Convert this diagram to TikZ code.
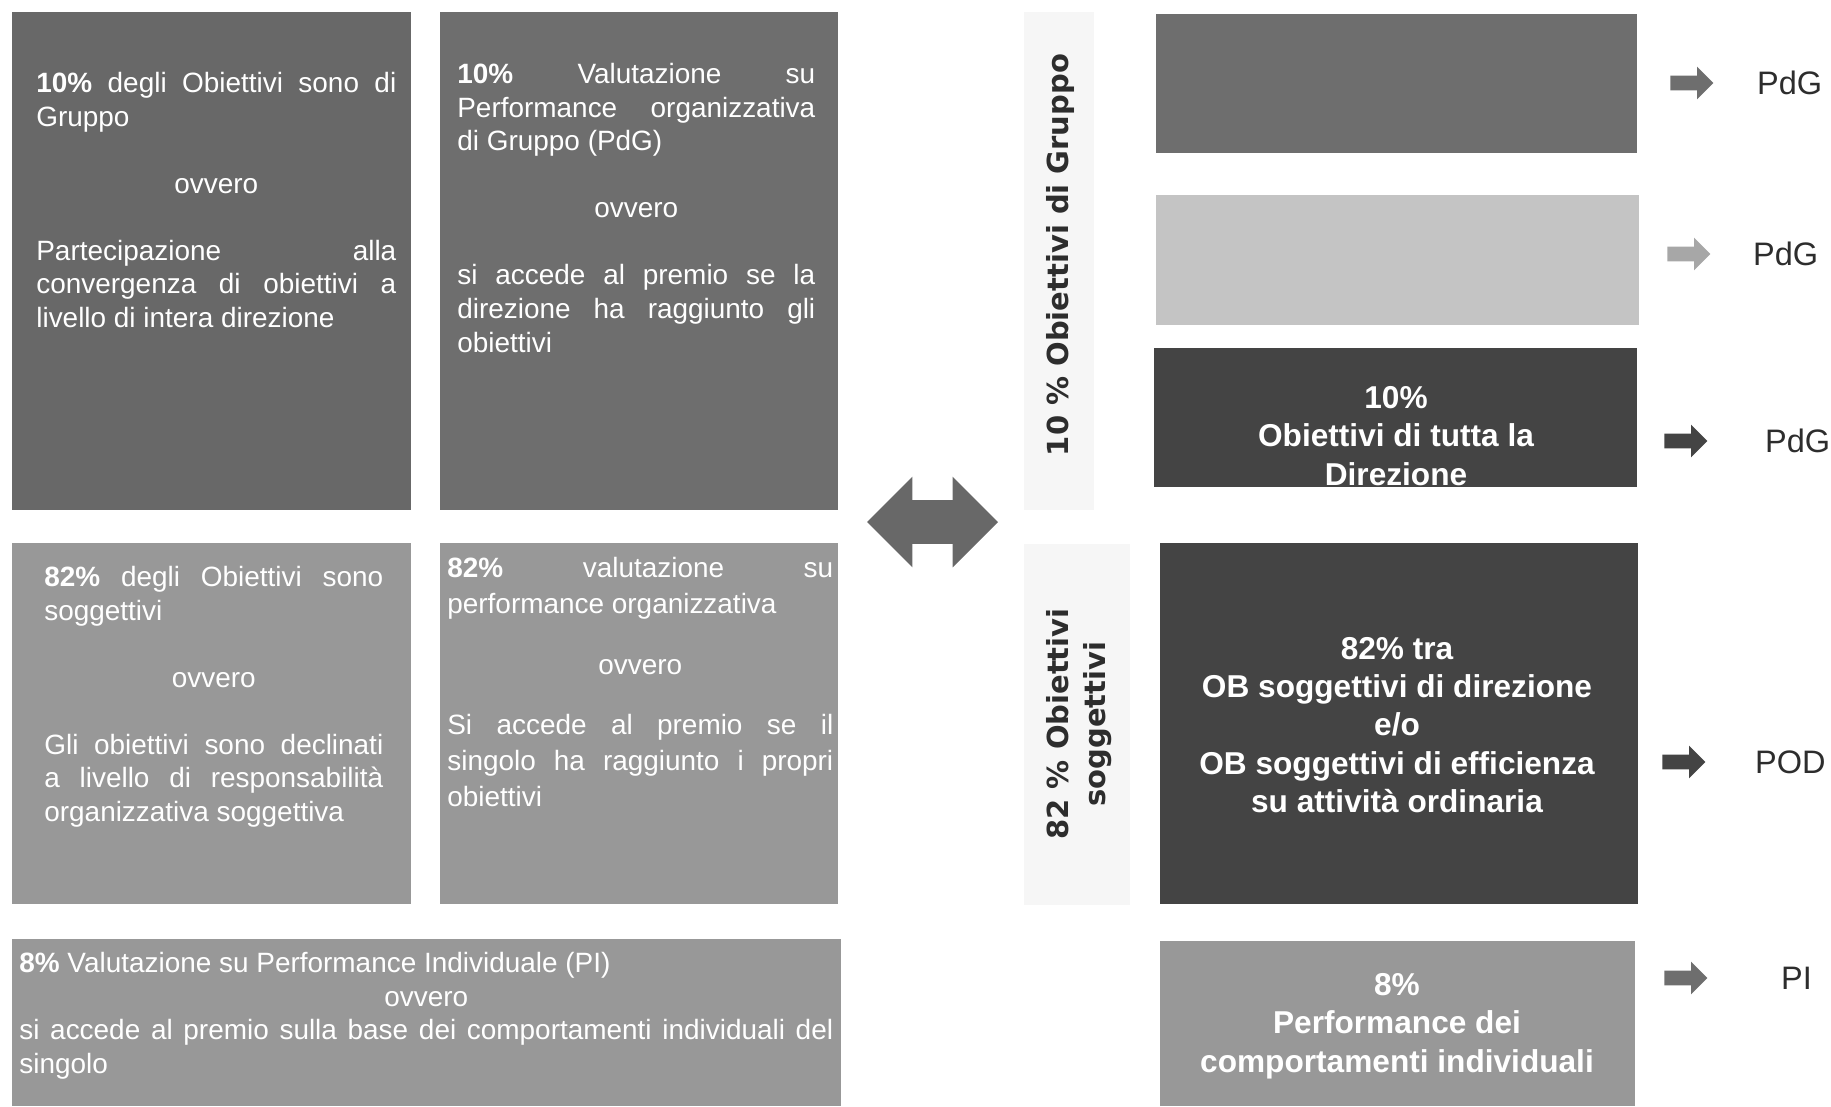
\documentclass[tikz,border=0pt]{standalone}
\usepackage{fontspec}
\setmainfont{Liberation Sans}
\newfontfamily\bandfont{DejaVu Sans}
\usetikzlibrary{positioning,fit,shapes.arrows}
\definecolor{grpdark}{RGB}{104,104,104}
\definecolor{grpmid}{RGB}{110,110,110}
\definecolor{subjgray}{RGB}{152,152,152}
\definecolor{bandgray}{RGB}{246,246,246}
\definecolor{pdgdark}{RGB}{110,110,110}
\definecolor{pdglight}{RGB}{196,196,196}
\definecolor{dirdark}{RGB}{68,68,68}
\definecolor{labelgray}{RGB}{45,45,45}

\newcommand{\bodyfont}[1]{\fontsize{15.9}{#1}\selectfont\parindent=0pt\hyphenpenalty=10000\tolerance=10000}
\newcommand{\ovvero}[1][\baselineskip]{\par\vskip#1{\centering ovvero\par}\vskip#1}

\begin{document}
\begin{tikzpicture}[
    x=0.02cm, y=-0.02cm,
    panel/.style={rectangle, draw=none, inner sep=0pt},
    bodytext/.style={anchor=north west, inner sep=0pt, text=white, align=justify, font=\bodyfont{19.1pt}},
    boldtext/.style={inner sep=0pt, text=white, align=center, font=\fontsize{18}{21.8}\selectfont\bfseries},
    bandtext/.style={inner sep=0pt, rotate=90, align=center, text=labelgray, font=\bandfont\fontsize{16.5}{21}\selectfont\bfseries},
    pointer/.style={single arrow, draw=none, inner xsep=0pt, inner ysep=0.14cm, anchor=tail, minimum height=0.86cm, single arrow head extend=0.18cm},
    outlabel/.style={inner sep=0pt, anchor=west, text=labelgray, font=\fontsize{18.5}{22}\selectfont}
]
\useasboundingbox (0,0) rectangle (1831,1106);

% Left panels
\node[panel, fill=grpdark, fit={(12,12) (411,510)}] (grpobj) {};
\node[panel, fill=grpmid, fit={(440,12) (838,510)}] (grpval) {};
\node[panel, fill=subjgray, fit={(12,543) (411,904)}] (subjobj) {};
\node[panel, fill=subjgray, fit={(440,543) (838,904)}] (subjval) {};
\node[panel, fill=subjgray, fit={(12,939) (841,1106)}] (indval) {};

% Left texts
\node[bodytext, text width=7.2cm] (grpobjtxt) at (36,72) {\textbf{10\%} degli Obiettivi sono di\linebreak Gruppo\ovvero Partecipazione alla\linebreak convergenza di obiettivi a\linebreak livello di intera direzione\par};
\node[bodytext, text width=7.16cm] (grpvaltxt) at (457,63) {\textbf{10\%} Valutazione su\linebreak Performance organizzativa\linebreak di Gruppo (PdG)\ovvero si accede al premio se la\linebreak direzione ha raggiunto gli\linebreak obiettivi\par};
\node[bodytext, text width=6.78cm] (subjobjtxt) at (44,566) {\textbf{82\%} degli Obiettivi sono\linebreak soggettivi\ovvero Gli obiettivi sono declinati\linebreak a livello di responsabilità\linebreak organizzativa soggettiva\par};
\node[bodytext, text width=7.72cm, font=\bodyfont{20.5pt}] (subjvaltxt) at (447,557) {\textbf{82\%} valutazione su\linebreak performance organizzativa\ovvero[14pt] Si accede al premio se il\linebreak singolo ha raggiunto i propri\linebreak obiettivi\par};
\node[bodytext, text width=16.28cm] (indvaltxt) at (19,952) {\textbf{8\%} Valutazione su Performance Individuale (PI)\par{\centering ovvero\par}si accede al premio sulla base dei comportamenti individuali del\linebreak singolo\par};

% Double arrow
\node[double arrow, draw=none, fill=grpdark, inner xsep=0pt, inner ysep=0.43cm, minimum height=2.62cm, double arrow head extend=0.47cm] (link) at (932.5,522) {};

% Vertical bands
\node[panel, fill=bandgray, fit={(1024,12) (1094,510)}] (bandgrp) {};
\node[panel, fill=bandgray, fit={(1024,544) (1130,905)}] (bandsubj) {};
\node[bandtext] (bandgrptxt) at (1060,255) {10 \% Obiettivi di Gruppo};
\node[bandtext] (bandsubjtxt) at (1079,724) {82 \% Obiettivi\\soggettivi};

% Right panels
\node[panel, fill=pdgdark, fit={(1156,14) (1637,153)}] (pdgA) {};
\node[panel, fill=pdglight, fit={(1156,195) (1639,325)}] (pdgB) {};
\node[panel, fill=dirdark, fit={(1154,348) (1637,487)}] (dir) {};
\node[panel, fill=dirdark, fit={(1160,543) (1638,904)}] (subj) {};
\node[panel, fill=subjgray, fit={(1160,941) (1635,1106)}] (ind) {};

\node[boldtext] (dirtxt) at (1396,436) {10\%\\Obiettivi di tutta la\\Direzione};
\node[boldtext] (subjtxt) at (1397,725) {82\% tra\\OB soggettivi di direzione\\e/o\\OB soggettivi di efficienza\\su attività ordinaria};
\node[boldtext] (indtxt) at (1397,1026) {8\%\\Performance dei\\comportamenti individuali};

% Pointers and outcomes
\node[pointer, fill=pdgdark] (ptA) at (1670,83) {};
\node[pointer, fill=pdglight!85!black] (ptB) at (1667,254) {};
\node[pointer, fill=dirdark] (ptC) at (1664,441) {};
\node[pointer, fill=dirdark] (ptD) at (1662,762) {};
\node[pointer, fill=pdgdark] (ptE) at (1664,978) {};

\node[outlabel, right=0.86cm of ptA] (outA) {PdG};
\node[outlabel, right=0.84cm of ptB] (outB) {PdG};
\node[outlabel, right=1.14cm of ptC] (outC) {PdG};
\node[outlabel, right=0.98cm of ptD] (outD) {POD};
\node[outlabel, right=1.46cm of ptE] (outE) {PI};

\end{tikzpicture}
\end{document}
